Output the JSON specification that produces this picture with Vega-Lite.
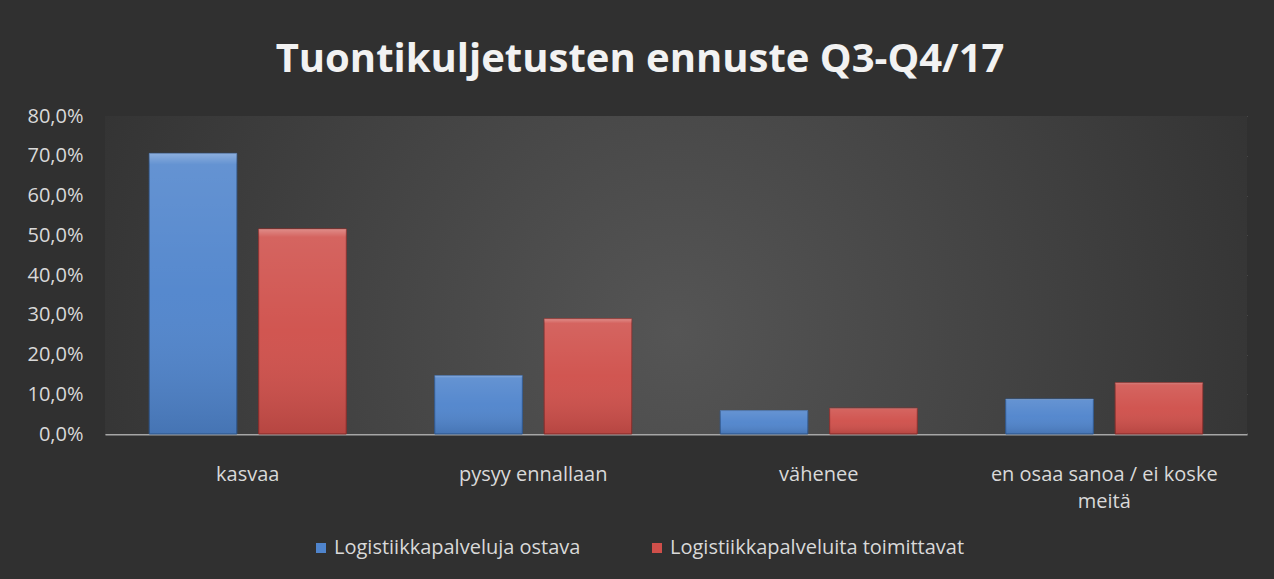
{
  "$schema": "https://vega.github.io/schema/vega-lite/v6.json",
  "autosize": {"type": "none"},
  "width": 1142,
  "height": 318,
  "padding": {"left": 105, "top": 116, "right": 27, "bottom": 145},
  "background": "#303030",
  "config": {
    "locale": {"number": {"decimal": ",", "thousands": " ", "grouping": [3], "currency": ["", " €"]}},
    "font": "Open Sans",
    "view": {"stroke": null}
  },
  "title": {
    "text": "Tuontikuljetusten ennuste Q3-Q4/17",
    "anchor": "middle",
    "dx": -36,
    "offset": 26,
    "font": "Open Sans",
    "fontSize": 40,
    "fontWeight": "bold",
    "color": "#f2f2f2"
  },
  "layer": [
    {
      "data": {"values": [{"bg": 1}]},
      "mark": {
        "type": "rect",
        "fill": {
          "gradient": "radial",
          "x1": 0.5, "y1": 0.55, "r1": 0,
          "x2": 0.5, "y2": 0.55, "r2": 0.6,
          "stops": [
            {"offset": 0, "color": "#555555"},
            {"offset": 1, "color": "#303030"}
          ]
        }
      },
      "encoding": {}
    },
    {
      "data": {"name": "d"},
      "mark": {"type": "bar", "strokeWidth": 1},
      "encoding": {
        "x": {
          "field": "kategoria", "type": "nominal", "sort": null,
          "scale": {"paddingInner": 0.31, "paddingOuter": 0.155},
          "axis": {
            "title": null,
            "labelFontSize": 20,
            "labelColor": "#d9d9d9",
            "labelFont": "Open Sans",
            "labelAngle": 0,
            "labelPadding": 30,
            "labelLineHeight": 27,
            "labelLimit": 0,
            "labelExpr": "datum.value == 'en osaa sanoa / ei koske meitä' ? ['en osaa sanoa / ei koske', 'meitä'] : datum.value",
            "ticks": false,
            "domainColor": "#a6a6a6",
            "domainWidth": 2,
            "grid": false
          }
        },
        "y": {
          "field": "osuus", "type": "quantitative",
          "scale": {"domain": [0, 0.8]},
          "axis": {
            "title": null,
            "format": ".1%",
            "values": [0, 0.1, 0.2, 0.3, 0.4, 0.5, 0.6, 0.7, 0.8],
            "labelOverlap": false,
            "labelFontSize": 20,
            "labelColor": "#d9d9d9",
            "labelFont": "Open Sans",
            "labelPadding": 22,
            "ticks": false,
            "domain": false,
            "gridColor": "#606060",
            "gridWidth": 1
          }
        },
        "xOffset": {
          "field": "ryhmä", "type": "nominal", "sort": null,
          "scale": {"paddingInner": 0.2, "paddingOuter": 0}
        },
        "color": {
          "field": "ryhmä", "type": "nominal", "sort": null,
          "scale": {"range": ["#4f84cc", "#cf4f4a"]},
          "legend": {
            "title": null,
            "orient": "none",
            "direction": "horizontal",
            "legendX": 206,
            "legendY": 422,
            "symbolType": "square",
            "symbolSize": 100,
            "symbolStrokeWidth": 0,
            "symbolOpacity": 1,
            "labelFontSize": 20,
            "labelLimit": 0,
            "labelColor": "#d9d9d9",
            "labelFont": "Open Sans",
            "labelOffset": 3,
            "columnPadding": 66
          }
        },
        "stroke": {
          "field": "ryhmä", "type": "nominal", "sort": null,
          "scale": {"range": ["#2f5a94", "#8e2d2a"]},
          "legend": null
        }
      }
    },
    {
      "data": {"name": "d"},
      "mark": {
        "type": "bar",
        "fill": {
          "gradient": "linear",
          "x1": 0, "y1": 0, "x2": 0, "y2": 1,
          "stops": [
            {"offset": 0, "color": "rgba(255,255,255,0.35)"},
            {"offset": 0.04, "color": "rgba(255,255,255,0.12)"},
            {"offset": 0.5, "color": "rgba(255,255,255,0.04)"},
            {"offset": 1, "color": "rgba(0,0,0,0.12)"}
          ]
        }
      },
      "encoding": {
        "x": {
          "field": "kategoria", "type": "nominal", "sort": null,
          "axis": {
            "title": null,
            "labelFontSize": 20,
            "labelColor": "#d9d9d9",
            "labelFont": "Open Sans",
            "labelAngle": 0,
            "labelPadding": 30,
            "labelLineHeight": 27,
            "labelLimit": 0,
            "labelExpr": "datum.value == 'en osaa sanoa / ei koske meitä' ? ['en osaa sanoa / ei koske', 'meitä'] : datum.value",
            "ticks": false,
            "domainColor": "#a6a6a6",
            "domainWidth": 2,
            "grid": false
          }
        },
        "y": {
          "field": "osuus", "type": "quantitative",
          "axis": {
            "title": null,
            "format": ".1%",
            "values": [0, 0.1, 0.2, 0.3, 0.4, 0.5, 0.6, 0.7, 0.8],
            "labelOverlap": false,
            "labelFontSize": 20,
            "labelColor": "#d9d9d9",
            "labelFont": "Open Sans",
            "labelPadding": 22,
            "ticks": false,
            "domain": false,
            "gridColor": "#606060",
            "gridWidth": 1
          }
        },
        "xOffset": {"field": "ryhmä", "type": "nominal", "sort": null}
      }
    }
  ],
  "datasets": {
    "d": [
      {"kategoria": "kasvaa", "ryhmä": "Logistiikkapalveluja ostava", "osuus": 0.706},
      {"kategoria": "kasvaa", "ryhmä": "Logistiikkapalveluita toimittavat", "osuus": 0.516},
      {"kategoria": "pysyy ennallaan", "ryhmä": "Logistiikkapalveluja ostava", "osuus": 0.147},
      {"kategoria": "pysyy ennallaan", "ryhmä": "Logistiikkapalveluita toimittavat", "osuus": 0.29},
      {"kategoria": "vähenee", "ryhmä": "Logistiikkapalveluja ostava", "osuus": 0.059},
      {"kategoria": "vähenee", "ryhmä": "Logistiikkapalveluita toimittavat", "osuus": 0.065},
      {"kategoria": "en osaa sanoa / ei koske meitä", "ryhmä": "Logistiikkapalveluja ostava", "osuus": 0.088},
      {"kategoria": "en osaa sanoa / ei koske meitä", "ryhmä": "Logistiikkapalveluita toimittavat", "osuus": 0.129}
    ]
  }
}
